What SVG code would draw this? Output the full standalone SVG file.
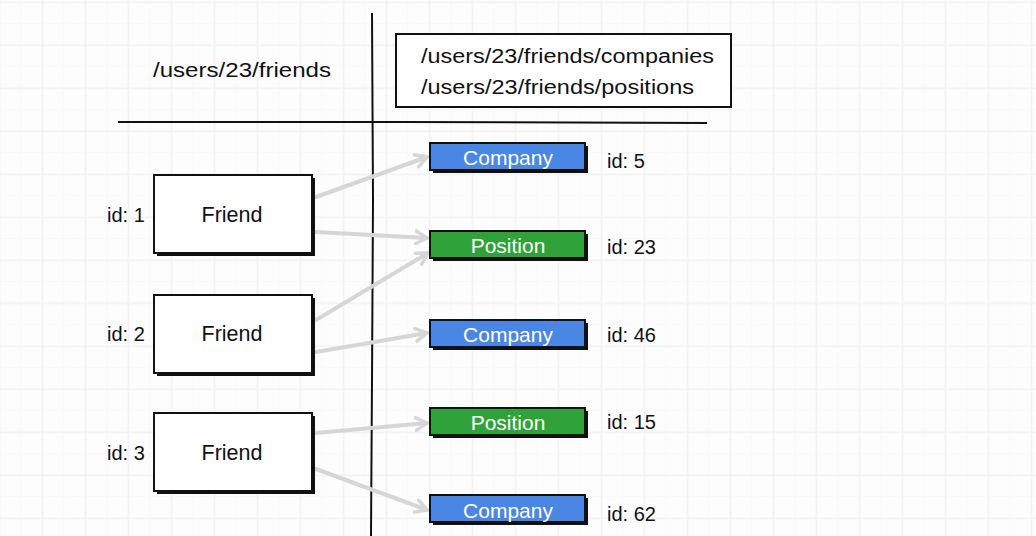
<svg xmlns="http://www.w3.org/2000/svg" width="1036" height="536" viewBox="0 0 1036 536">
<defs>
<pattern id="gridMinor" x="-1.3" y="1.5" width="21.5" height="21.5" patternUnits="userSpaceOnUse">
<path d="M0 0.5H21.5M0.5 0V21.5" fill="none" stroke="#f9f9fb" stroke-width="1"/>
</pattern>
<pattern id="gridMajor" x="-1.3" y="1.5" width="43" height="43" patternUnits="userSpaceOnUse">
<path d="M0 0.75H43M0.75 0V43" fill="none" stroke="#f2f2f5" stroke-width="1.5"/>
</pattern>
<marker id="chev" viewBox="0 0 10 10" refX="8" refY="5" markerWidth="4" markerHeight="4" orient="auto" markerUnits="strokeWidth">
<path d="M1 1L8 5L1 9" fill="none" stroke="#d6d6d6" stroke-width="2.2" stroke-linecap="round" stroke-linejoin="round"/>
</marker>
</defs>
<style>
text{font-family:"Liberation Sans",Arial,sans-serif;fill:#111}
.lbl{font-size:20px}
.id{font-size:20px}
.fr{font-size:21.5px;text-anchor:middle}
.wt{font-size:21px;text-anchor:middle;fill:#fff}
.shadow{fill:#111}
.fbox{fill:#fff;stroke:#111;stroke-width:2}
.blue{fill:#4a86e3;stroke:#111;stroke-width:2}
.green{fill:#2fa33a;stroke:#111;stroke-width:2}
.conn{fill:none;stroke:#d6d6d6;stroke-width:4;stroke-linecap:round;marker-end:url(#chev)}
.line{stroke:#111;stroke-width:2;fill:none}
</style>
<rect width="1036" height="536" fill="#fdfdfe"/>
<rect width="1036" height="536" fill="url(#gridMinor)"/>
<rect width="1036" height="536" fill="url(#gridMajor)"/>

<g id="dividers">
<path class="line" d="M372 13 L373 200 L372 380 L371 536"/>
<path class="line" d="M118 122 L400 122 L707 123"/>
</g>

<g id="header-left">
<text class="lbl" x="153" y="77" textLength="178" lengthAdjust="spacingAndGlyphs">/users/23/friends</text>
</g>

<g id="header-right">
<rect x="396" y="34" width="335" height="73" fill="#fff" stroke="#111" stroke-width="2"/>
<text class="lbl" x="421" y="63" textLength="293" lengthAdjust="spacingAndGlyphs">/users/23/friends/companies</text>
<text class="lbl" x="421" y="94" textLength="273" lengthAdjust="spacingAndGlyphs">/users/23/friends/positions</text>
</g>

<g id="connectors">
<path class="conn" d="M316 197 L427 157"/>
<path class="conn" d="M316 232 L427 238"/>
<path class="conn" d="M316 320 L428 253"/>
<path class="conn" d="M316 352 L427 333"/>
<path class="conn" d="M316 433 L427 423"/>
<path class="conn" d="M316 469 L427 510"/>
</g>

<g id="friend1">
<rect class="shadow" x="157" y="178" width="158" height="78"/>
<rect class="fbox" x="154" y="175" width="158" height="78"/>
<text class="fr" x="232" y="222">Friend</text>
<text class="id" x="107" y="222">id: 1</text>
</g>
<g id="friend2">
<rect class="shadow" x="157" y="298" width="158" height="78"/>
<rect class="fbox" x="154" y="295" width="158" height="78"/>
<text class="fr" x="232" y="341">Friend</text>
<text class="id" x="107" y="341">id: 2</text>
</g>
<g id="friend3">
<rect class="shadow" x="157" y="416" width="158" height="78"/>
<rect class="fbox" x="154" y="413" width="158" height="78"/>
<text class="fr" x="232" y="460">Friend</text>
<text class="id" x="107" y="460">id: 3</text>
</g>

<g id="company5">
<rect class="shadow" x="433" y="146" width="155" height="27"/>
<rect class="blue" x="430" y="143" width="155" height="27"/>
<text class="wt" x="508" y="165">Company</text>
<text class="id" x="607" y="168">id: 5</text>
</g>
<g id="position23">
<rect class="shadow" x="433" y="234" width="155" height="27"/>
<rect class="green" x="430" y="231" width="155" height="27"/>
<text class="wt" x="508" y="253">Position</text>
<text class="id" x="607" y="254">id: 23</text>
</g>
<g id="company46">
<rect class="shadow" x="433" y="323" width="155" height="27"/>
<rect class="blue" x="430" y="320" width="155" height="27"/>
<text class="wt" x="508" y="342">Company</text>
<text class="id" x="607" y="342">id: 46</text>
</g>
<g id="position15">
<rect class="shadow" x="433" y="411" width="155" height="27"/>
<rect class="green" x="430" y="408" width="155" height="27"/>
<text class="wt" x="508" y="430">Position</text>
<text class="id" x="607" y="429">id: 15</text>
</g>
<g id="company62">
<rect class="shadow" x="433" y="498" width="155" height="27"/>
<rect class="blue" x="430" y="495" width="155" height="27"/>
<text class="wt" x="508" y="518">Company</text>
<text class="id" x="607" y="521">id: 62</text>
</g>
</svg>
